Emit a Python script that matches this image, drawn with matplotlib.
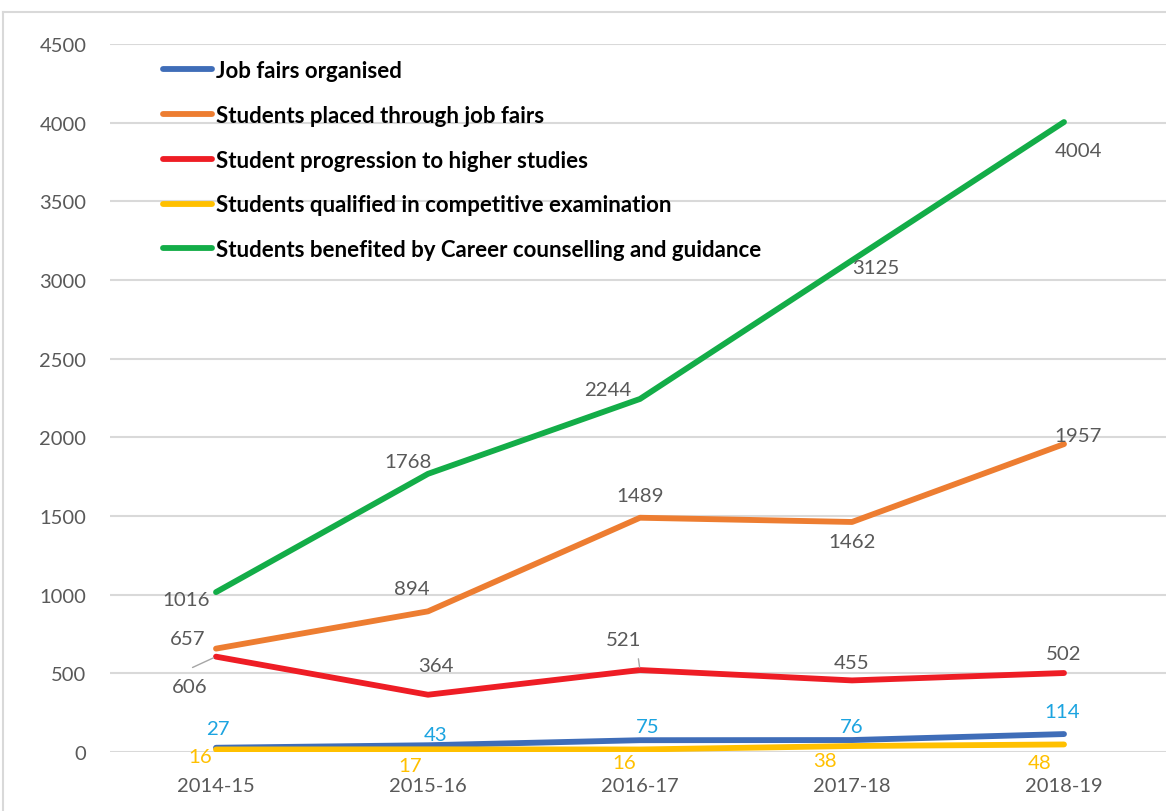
import matplotlib.pyplot as plt
from matplotlib.lines import Line2D

years = ['2014-15', '2015-16', '2016-17', '2017-18', '2018-19']
job_fairs = [27, 43, 75, 76, 114]
placed = [657, 894, 1489, 1462, 1957]
higher = [606, 364, 521, 455, 502]
competitive = [16, 17, 16, 38, 48]
counselling = [1016, 1768, 2244, 3125, 4004]

names = ['Job fairs organised',
         'Students placed through job fairs',
         'Student progression to higher studies',
         'Students qualified in competitive examination',
         'Students benefited by Career counselling and guidance']
colors = ['#3F6DB8', '#ED7D31', '#EE1D25', '#FFC000', '#13AD48']
label_colors = ['#1CA4E0', '#595959', '#595959', '#FFC000', '#595959']

# label offsets in pixels (dx, dy) for each series / point
offsets = [
    [(2, 19), (8, 11), (8, 14), (0, 14), (-2, 23)],
    [(-28, 10), (-16, 23), (0, 22), (0, -20), (14, 9)],
    [(-26, -30), (8, 29), (-16, 31), (0, 18), (0, 20)],
    [(-16, -7), (-18, -16), (-16, -13), (-27, -14), (-24, -18)],
    [(-30, -7), (-20, 12), (-32, 9), (24, -7), (14, -28)],
]

plt.rcParams['font.family'] = ['Lato', 'DejaVu Sans']

fig = plt.figure(figsize=(11.66, 8.12), dpi=100)
ax = fig.add_axes([110 / 1166, 59 / 812, 1060 / 1166, 708 / 812])

series = [job_fairs, placed, higher, competitive, counselling]
x = list(range(len(years)))
for vals, c, lc, offs, nm in zip(series, colors, label_colors, offsets, names):
    ax.plot(x, vals, color=c, lw=4.2, solid_capstyle='round', label=nm, zorder=3)
    for xi, v, (dx, dy) in zip(x, vals, offs):
        ax.annotate(str(v), (xi, v), xytext=(dx, dy), textcoords='offset pixels',
                    ha='center', va='center', fontsize=14.7, color=lc, zorder=4)

# leader lines
ax.annotate('', (0, 606), xytext=(-26, -12), textcoords='offset pixels',
            arrowprops=dict(arrowstyle='-', color='#A6A6A6', lw=1))
ax.annotate('', (2, 521), xytext=(-2, 14), textcoords='offset pixels',
            arrowprops=dict(arrowstyle='-', color='#A6A6A6', lw=1))

ax.set_xlim(-0.5, 4.5)
ax.set_ylim(0, 4500)
ax.set_yticks(range(0, 4501, 500))
ax.set_xticks(x)
ax.set_xticklabels(years)
ax.grid(axis='y', color='#D9D9D9', lw=1.5)
ax.set_axisbelow(True)
for s in ax.spines.values():
    s.set_visible(False)
ax.tick_params(length=0, labelsize=14.5, labelcolor='#595959')
ax.tick_params(axis='y', pad=17)
ax.tick_params(axis='x', pad=18)

leg = ax.legend(loc='upper left', bbox_to_anchor=(152 / 1166, 1 - 50 / 812),
                bbox_transform=fig.transFigure, frameon=False, borderpad=0,
                handlelength=2.2, handletextpad=0.18, labelspacing=1.07,
                prop={'weight': 'bold', 'size': 16})

# chart border
fig.add_artist(Line2D([3 / 1166, 3 / 1166], [0, 1 - 13 / 812], color='#D9D9D9', lw=1.5))
fig.add_artist(Line2D([3 / 1166, 1], [1 - 13 / 812, 1 - 13 / 812], color='#D9D9D9', lw=1.5))

fig.savefig('out.png', dpi=100)
